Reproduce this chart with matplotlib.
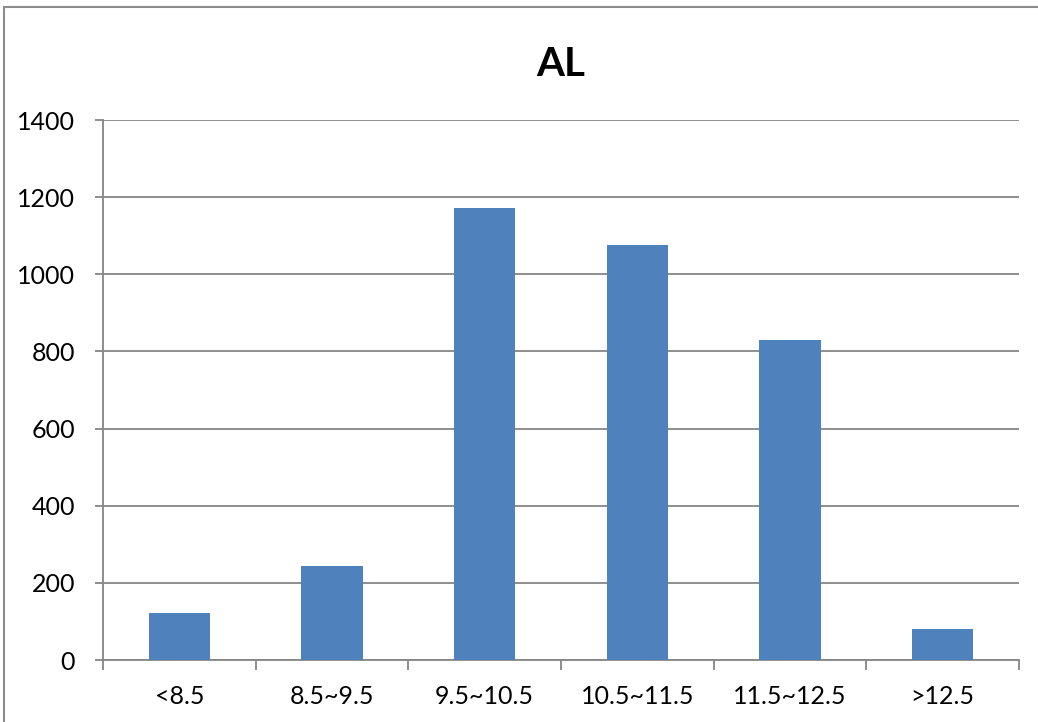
import matplotlib.pyplot as plt
from matplotlib.patches import Rectangle
import numpy as np

plt.rcParams['font.family'] = ['Lato', 'DejaVu Sans']

categories = ['<8.5', '8.5~9.5', '9.5~10.5', '10.5~11.5', '11.5~12.5', '>12.5']
counts = [122, 244, 1172, 1076, 830, 80]
y_ticks = [0, 200, 400, 600, 800, 1000, 1200, 1400]

W, H = 1038, 722
fig = plt.figure(figsize=(W / 100, H / 100), dpi=100)

# outer chart frame
fig.patches.append(Rectangle((4 / W, -0.05), 1.2, 1 - 7 / H + 0.05,
                             transform=fig.transFigure, fill=False,
                             edgecolor='#8c8c8c', linewidth=1.5, zorder=0))

ax = fig.add_axes([103 / W, 1 - 660 / H, (1019 - 103) / W, (660 - 120) / H])
x = np.arange(len(categories))
ax.bar(x, counts, width=0.4, color='#4f81bd', zorder=3)

ax.set_xlim(-0.5, len(categories) - 0.5)
ax.set_ylim(0, 1400)
ax.set_yticks(y_ticks)
ax.set_yticklabels([str(v) for v in y_ticks], fontsize=18)
ax.yaxis.grid(True, color='#868686', linewidth=1.3, zorder=0)

# category labels centred under bars, ticks on category boundaries
ax.set_xticks(np.arange(len(categories) + 1) - 0.5)
ax.set_xticklabels([])
ax.set_xticks(x, minor=True)
ax.set_xticklabels(categories, minor=True, fontsize=18)
ax.tick_params(axis='x', which='major', length=7, width=1.3, color='#868686', direction='out')
ax.tick_params(axis='x', which='minor', length=0, pad=18)
ax.tick_params(axis='y', length=6, width=1.3, color='#868686', pad=14)

for side in ['top', 'right']:
    ax.spines[side].set_visible(False)
for side in ['left', 'bottom']:
    ax.spines[side].set_color('#868686')
    ax.spines[side].set_linewidth(1.3)

fig.text(561 / W, 1 - 64 / H, 'AL', ha='center', va='center',
         fontsize=29, fontweight='bold')

fig.savefig('out.png', dpi=100, facecolor='white')
